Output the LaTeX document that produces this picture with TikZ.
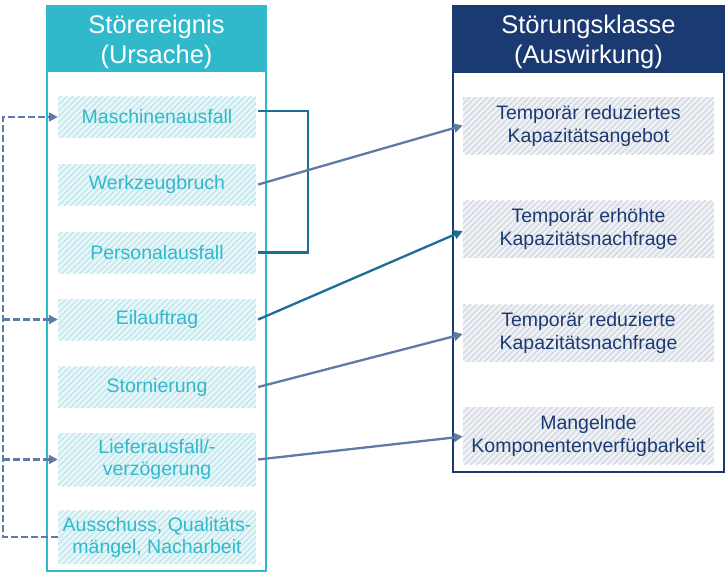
\documentclass[tikz,border=0pt]{standalone}
\usepackage{fontspec}
\setmainfont{Liberation Sans}
\usetikzlibrary{arrows.meta,patterns.meta}
\definecolor{teal1}{HTML}{30B9CB}
\definecolor{navy1}{HTML}{1C3A72}
\definecolor{petrol}{HTML}{1B6F97}
\definecolor{slate}{HTML}{5C7BA5}
\definecolor{lfill}{HTML}{EAF7F9}
\definecolor{lhatch}{HTML}{C0E7EE}
\definecolor{rfill}{HTML}{F0F2F5}
\definecolor{rhatch}{HTML}{D3D9E2}
\tikzset{
  headbox/.style={fill=#1, draw=#1, line width=1.5pt, inner sep=0pt},
  headtext/.style={text=white, align=center, inner sep=0pt, yshift=-3pt,
    font=\fontsize{25.5}{30}\selectfont},
  litem/.style={fill=lfill, postaction={pattern={Lines[angle=45,distance=4.2pt,line width=1.4pt]}, pattern color=lhatch},
    text=teal1, align=center, minimum width=198pt, inner sep=0pt, font=\fontsize{19.5}{22}\selectfont},
  ritem/.style={fill=rfill, postaction={pattern={Lines[angle=45,distance=4.2pt,line width=1.4pt]}, pattern color=rhatch},
    text=navy1, align=center, minimum width=251pt, minimum height=57pt, inner sep=0pt, font=\fontsize{19.5}{23}\selectfont},
  conn/.style={draw=#1, line width=2.3pt},
  tip/.style={-{Triangle[length=9pt,width=9pt]}},
  dashl/.style={draw=slate, line width=2.5pt, dash pattern=on 6.5pt off 3.5pt},
}
\begin{document}
\begin{tikzpicture}[x=1pt,y=-1pt]
\useasboundingbox (0,0) rectangle (725,573);
% panels
\node[draw=teal1, line width=1.5pt, minimum width=219pt, minimum height=565pt, inner sep=0pt] (lp) at (156.5,288.5) {};
\node[headbox=teal1, minimum width=219pt, minimum height=65pt,
  label={[headtext]center:{Störereignis\\(Ursache)}}] (lh) at (156.5,38.5) {};
\node[draw=navy1, line width=1.5pt, minimum width=271pt, minimum height=466pt, inner sep=0pt] (rp) at (588.5,239) {};
\node[headbox=navy1, minimum width=271pt, minimum height=66pt,
  label={[headtext]center:{Störungsklasse\\(Auswirkung)}}] (rh) at (588.5,39) {};
% left items
\node[litem, minimum height=41pt] (m) at (157,117) {Maschinenausfall};
\node[litem, minimum height=41pt] (w) at (157,184.5) {Werkzeugbruch};
\node[litem, minimum height=41pt] (p) at (157,252.5) {Personalausfall};
\node[litem, minimum height=41pt] (e) at (157,319.5) {Eilauftrag};
\node[litem, minimum height=41pt] (s) at (157,387) {Stornierung};
\node[litem, minimum height=53pt] (l) at (157,459.5) {Lieferausfall/-\\verzögerung};
\node[litem, minimum height=53pt] (a) at (157,537) {Ausschuss, Qualitäts-\\mängel, Nacharbeit};
% right items
\node[ritem] (r1) at (588.5,125.5) {Temporär reduziertes\\Kapazitätsangebot};
\node[ritem] (r2) at (588.5,229) {Temporär erhöhte\\Kapazitätsnachfrage};
\node[ritem] (r3) at (588.5,333) {Temporär reduzierte\\Kapazitätsnachfrage};
\node[ritem] (r4) at (588.5,435.5) {Mangelnde\\Komponentenverfügbarkeit};
% connectors
\draw[conn=petrol] ([xshift=2pt,yshift=6pt]m.east) -- ++(50,0) |- ([xshift=2pt]p.east);
\draw[conn=slate, tip] ([xshift=2pt]w.east) -- (r1.west);
\draw[conn=petrol, tip] ([xshift=2pt]e.east) -- ([yshift=-2pt]r2.west);
\draw[conn=slate, tip] ([xshift=2pt]s.east) -- ([yshift=-1pt]r3.west);
\draw[conn=slate, tip] ([xshift=2pt]l.east) -- ([yshift=-1pt]r4.west);
% dashed feedback
\coordinate (dl) at (3,0);
\draw[dashl, tip] (a.west) -- (a.west -| dl) |- (m.west);
\draw[dashl, tip] (e.west -| dl) -- (e.west);
\draw[dashl, tip] (l.west -| dl) -- (l.west);
\end{tikzpicture}
\end{document}
